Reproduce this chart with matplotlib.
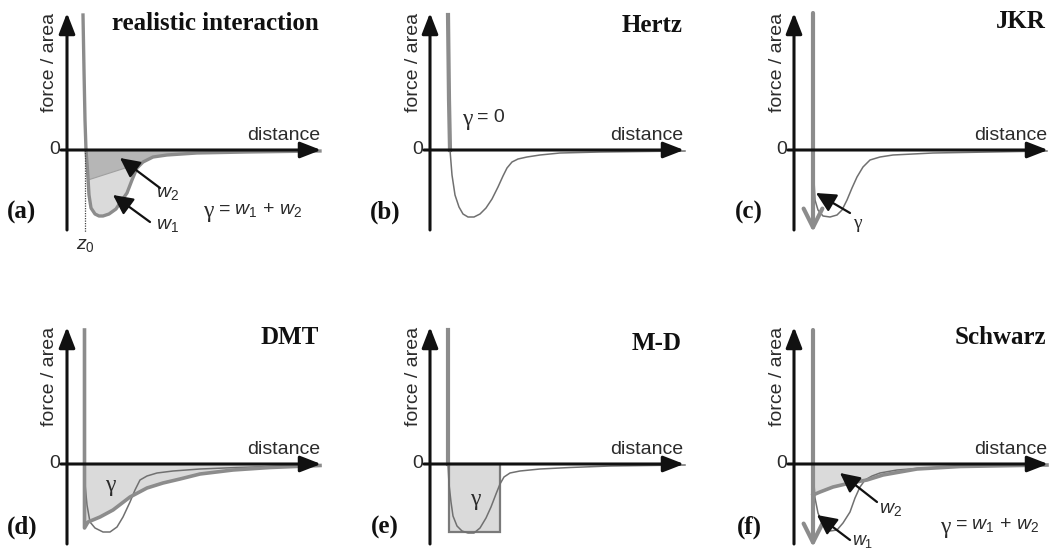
import matplotlib.pyplot as plt
from matplotlib.patches import Rectangle
import numpy as np

plt.rcParams["font.family"] = ["Liberation Sans", "DejaVu Sans"]
plt.rcParams["mathtext.fontset"] = "custom"
plt.rcParams["mathtext.rm"] = "Liberation Sans"
plt.rcParams["mathtext.it"] = "Liberation Sans:italic"

# force/area vs distance, arbitrary units (x = 0 is the force axis, y = 0 the zero line)
real_x = [1.6, 1.7, 1.8, 1.9, 2.05, 2.2, 2.4, 2.8, 3.2, 3.6, 4.2, 4.9, 5.5, 6.0, 6.5,
          7.0, 7.6, 8.6, 10.0, 13.0, 18.0, 25.3]
real_y = [13.5, 8.0, 3.0, 0.0, -2.0, -4.5, -5.8, -6.4, -6.6, -6.6, -6.4, -5.9, -5.0,
          -4.3, -3.0, -1.8, -1.2, -0.7, -0.5, -0.3, -0.2, -0.1]
real_split_x = [2.1, 7.4]
real_split_y = [-3.0, -1.3]

hertz_x = [1.8, 1.9, 2.0, 2.2, 2.5, 2.9, 3.3, 3.8, 4.4, 5.0, 5.6, 6.2, 6.8, 7.3, 7.7,
           8.2, 8.8, 9.7, 11.0, 13.0, 17.0, 25.5]
hertz_y = [13.5, 5.0, 0.0, -2.5, -4.5, -5.7, -6.4, -6.7, -6.7, -6.4, -5.8, -4.9, -3.7,
           -2.6, -1.8, -1.2, -0.9, -0.7, -0.5, -0.3, -0.2, -0.1]

jkr_x = [1.9, 2.0, 2.1, 2.4, 2.9, 3.6, 4.3, 4.8, 5.3, 5.8, 6.3, 6.9, 7.6, 8.6, 9.9,
         13.9, 25.3]
jkr_y = [0.0, -3.0, -5.0, -6.0, -6.6, -6.7, -6.5, -6.0, -5.0, -3.8, -2.7, -1.7, -1.0,
         -0.7, -0.5, -0.3, -0.1]
jkr_wall_x = 1.9

dmt_thin_x = [1.75, 1.8, 2.0, 2.3, 2.8, 3.6, 4.3, 5.0, 5.6, 6.3, 6.8, 7.3, 8.0, 9.0,
              10.6, 13.3, 17.0, 25.3]
dmt_thin_y = [0.0, -2.0, -4.1, -5.8, -6.4, -6.8, -6.8, -6.3, -5.3, -3.8, -2.6, -1.6,
              -1.2, -0.9, -0.7, -0.5, -0.35, -0.1]
dmt_x = [1.75, 1.75, 2.1, 3.3, 4.6, 6.3, 8.0, 9.6, 11.3, 13.3, 16.6, 20.3, 25.3]
dmt_y = [13.4, -6.4, -5.8, -5.3, -4.6, -3.3, -2.4, -1.9, -1.5, -1.0, -0.6, -0.35, -0.15]

md_x = [1.8, 1.9, 2.1, 2.3, 2.7, 3.2, 3.8, 4.4, 5.0, 5.6, 6.1, 6.6, 7.0, 7.4, 8.0,
        9.0, 11.0, 14.0, 18.0, 25.5]
md_y = [0.0, -2.0, -3.8, -5.2, -6.2, -6.7, -6.9, -6.9, -6.4, -5.4, -4.3, -3.0, -2.0,
        -1.3, -0.9, -0.7, -0.5, -0.35, -0.2, -0.1]
md_wall_x = 1.8
md_start, md_width, md_depth = 1.9, 5.1, 6.8

schwarz_thin_x = [1.9, 2.0, 2.1, 2.4, 2.9, 3.6, 4.3, 4.9, 5.6, 6.1, 6.6, 7.1, 7.8, 8.6,
                  10.3, 13.0, 17.0, 25.3]
schwarz_thin_y = [0.0, -2.0, -3.4, -4.9, -6.1, -6.7, -6.6, -5.9, -4.8, -3.4, -2.3,
                  -1.6, -1.2, -0.9, -0.6, -0.4, -0.25, -0.1]
schwarz_x = [1.9, 2.6, 3.9, 5.6, 7.3, 8.9, 10.6, 12.3, 16.6, 25.3]
schwarz_y = [-3.1, -2.8, -2.3, -1.9, -1.6, -1.1, -0.8, -0.5, -0.25, -0.1]
schwarz_wall_x = 1.9

W, H = 1051, 554
THICK = "#8c8c8c"
THIN = "#707070"
FILL = "#dadada"
FILL_DARK = "#b6b6b6"
AXIS = "#111111"
TXT = "#2b2b2b"
SERIF = ["Liberation Serif", "DejaVu Serif"]

fig = plt.figure(figsize=(W / 100, H / 100), dpi=100)


def panel(ox, oy, title, label, title_y=12.6, label_y=-6.2):
    # one axes per panel, 1 unit = 10 px, origin at (ox, oy) in pixels
    ax = fig.add_axes([(ox - 75) / W, 1 - (oy + 100) / H, 337 / W, 250 / H])
    ax.set_xlim(-7.5, 26.2)
    ax.set_ylim(-10, 15)
    ax.axis("off")
    arrow = dict(arrowstyle="-|>,head_length=0.9,head_width=0.35", color=AXIS,
                 lw=2.2, shrinkA=0, shrinkB=0, mutation_scale=14)
    ax.annotate("", xy=(0, 13.7), xytext=(0, -8.0), arrowprops=arrow, zorder=5)
    ax.annotate("", xy=(25.4, 0), xytext=(-0.6, 0), arrowprops=arrow, zorder=5)
    ax.text(-1.2, 0, "0", ha="center", va="center", fontsize=14, color=TXT)
    ax.text(25.3, 1.5, "distance", ha="right", va="center", fontsize=14, color=TXT)
    ax.text(-1.7, 8.8, "force / area", rotation=90, ha="center", va="center",
            fontsize=14, color=TXT)
    ax.text(25.2, title_y, title, ha="right", va="center", fontsize=18,
            fontweight="bold", family=SERIF, color="#111111")
    ax.text(-4.5, label_y, label, ha="center", va="center", fontsize=18,
            fontweight="bold", family=SERIF, color="#111111")
    return ax


def pointer(ax, tail, head):
    ax.annotate("", xy=head, xytext=tail, zorder=6,
                arrowprops=dict(arrowstyle="-|>,head_length=0.8,head_width=0.4",
                                color=AXIS, lw=1.6, shrinkA=0, shrinkB=0,
                                mutation_scale=15))


def down_arrow(ax, x, top, tip):
    ax.annotate("", xy=(x, tip), xytext=(x, top), zorder=4,
                arrowprops=dict(arrowstyle="->,head_length=0.9,head_width=0.45",
                                color=THICK, lw=3, shrinkA=0, shrinkB=0,
                                mutation_scale=15))


def gamma(ax, x, y, rest="", size=14):
    # serif gamma followed by the rest of the relation in sans
    ax.text(x, y - 0.2, "γ", ha="left", va="center", fontsize=size + 3,
            family=SERIF, color=TXT)
    if rest:
        ax.text(x + 1.5, y, rest, ha="left", va="center", fontsize=size, color=TXT)


# (a) realistic interaction
ax = panel(67, 150, "realistic interaction", "(a)")
rx, ry = np.array(real_x), np.array(real_y)
ax.fill_between(rx, ry, 0, where=ry <= 0, color=FILL_DARK, lw=0)
inner = (rx > real_split_x[0]) & (rx < real_split_x[1]) & (ry < -1.2)
ax.fill(np.r_[real_split_x, rx[inner][::-1]], np.r_[real_split_y, ry[inner][::-1]],
        color=FILL, lw=0)
ax.plot(real_split_x, real_split_y, color="#a0a0a0", lw=0.8)
ax.plot(rx, ry, color=THICK, lw=2.4)
ax.plot([1.8, 1.8], [0, -8.2], color="#444444", lw=0.9, ls=(0, (1, 1)))
ax.text(1.8, -9.6, "$z_0$", ha="center", va="center", fontsize=14, color=TXT)
pointer(ax, (9.3, -3.8), (5.3, -0.8))
pointer(ax, (8.3, -7.2), (4.6, -4.5))
ax.text(10.0, -4.3, "$w_2$", ha="center", va="center", fontsize=14, color=TXT)
ax.text(10.0, -7.6, "$w_1$", ha="center", va="center", fontsize=14, color=TXT)
gamma(ax, 13.6, -6.0, "= $w_1$ + $w_2$")

# (b) Hertz
ax = panel(430, 150, "Hertz", "(b)", title_y=12.5)
ax.plot(hertz_x, hertz_y, color=THIN, lw=1.1)
ax.plot(hertz_x[:3], hertz_y[:3], color=THICK, lw=3)
gamma(ax, 3.2, 3.2, "= 0")

# (c) JKR
ax = panel(794, 150, "JKR", "(c)", title_y=12.8)
ax.plot(jkr_x, jkr_y, color=THIN, lw=1.1)
down_arrow(ax, jkr_wall_x, 13.7, -8.2)
pointer(ax, (5.6, -6.3), (2.2, -4.3))
gamma(ax, 5.9, -7.2, size=11)

# (d) DMT
ax = panel(67, 464, "DMT", "(d)", label_y=-6.3)
dx, dy = np.array(dmt_x), np.array(dmt_y)
ax.fill_between(dx[1:], dy[1:], 0, color=FILL, lw=0)
ax.plot(dmt_thin_x, dmt_thin_y, color=THIN, lw=1.1)
ax.plot(dx, dy, color=THICK, lw=2.6)
gamma(ax, 3.8, -1.9)

# (e) M-D
ax = panel(430, 464, "M-D", "(e)", title_y=12.1, label_y=-6.3)
ax.add_patch(Rectangle((md_start, -md_depth), md_width, md_depth,
                       facecolor=FILL, edgecolor="#7a7a7a", lw=1.6))
ax.plot(md_x, md_y, color=THIN, lw=1.1)
ax.plot([md_wall_x, md_wall_x], [13.4, 0], color=THICK, lw=3)
gamma(ax, 4.0, -3.4)

# (f) Schwarz
ax = panel(794, 464, "Schwarz", "(f)", title_y=12.6, label_y=-6.3)
sx, sy = np.array(schwarz_x), np.array(schwarz_y)
ax.fill_between(sx, sy, 0, color=FILL, lw=0)
ax.plot(schwarz_thin_x, schwarz_thin_y, color=THIN, lw=1.1)
ax.plot(sx, sy, color=THICK, lw=2.6)
down_arrow(ax, schwarz_wall_x, 13.4, -8.3)
pointer(ax, (8.3, -3.8), (4.6, -0.9))
pointer(ax, (5.6, -7.6), (2.3, -5.1))
ax.text(9.6, -4.5, "$w_2$", ha="center", va="center", fontsize=14, color=TXT)
ax.text(6.9, -7.8, "$w_1$", ha="center", va="center", fontsize=13, color=TXT)
gamma(ax, 14.6, -6.1, "= $w_1$ + $w_2$")

fig.savefig("out.png", dpi=100, facecolor="white")
